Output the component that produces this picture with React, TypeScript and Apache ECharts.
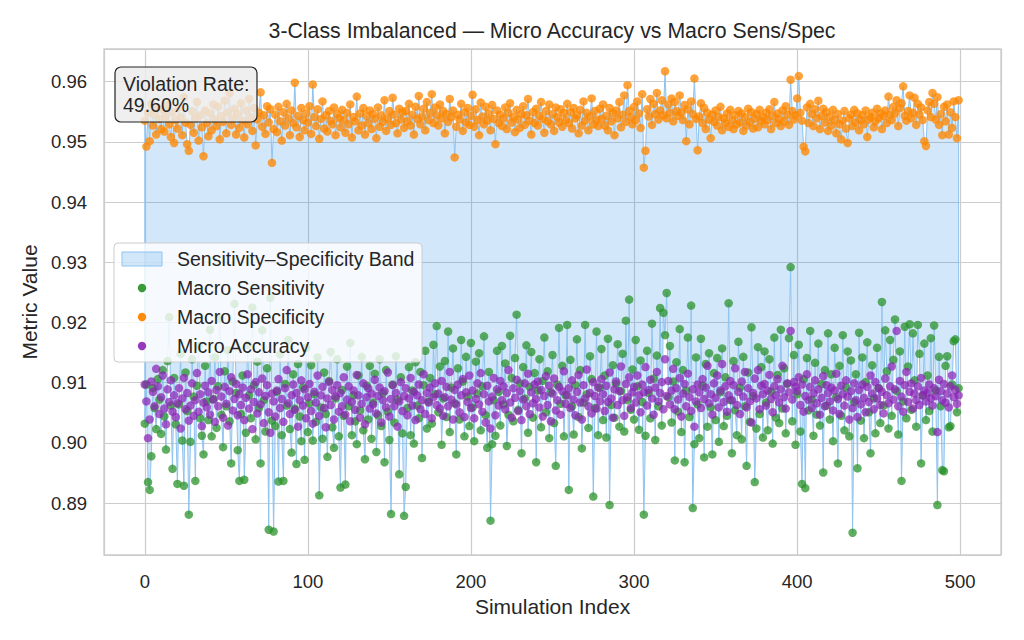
import React, { useEffect, useRef } from "react";
import * as echarts from "echarts";

const FONT = "'Liberation Sans', Arial, Helvetica, sans-serif";

const titleText = "3-Class Imbalanced — Micro Accuracy vs Macro Sens/Spec";
const xName = "Simulation Index";
const yName = "Metric Value";
const bandLabel = "Sensitivity–Specificity Band";
const sensLabel = "Macro Sensitivity";
const specLabel = "Macro Specificity";
const accLabel = "Micro Accuracy";
const violationText = "Violation Rate:\n49.60%";

const macroSensitivity = [
  0.9032, 0.9097, 0.8935, 0.8922, 0.8978, 0.9091, 0.9058, 0.9023, 0.9106, 0.9072, 0.9015, 0.9121, 0.9044, 0.8989, 0.9136, 0.9209, 0.9062, 0.8957, 0.9108, 0.9031,
  0.8932, 0.9064, 0.9148, 0.9004, 0.8929, 0.9117, 0.9053, 0.8881, 0.9002, 0.9139, 0.9077, 0.8937, 0.9095, 0.9161, 0.9041, 0.9012, 0.8981, 0.9128, 0.9069, 0.9038,
  0.9188, 0.9011, 0.9073, 0.9142, 0.9025, 0.9094, 0.9207, 0.9047, 0.8993, 0.9119, 0.9061, 0.9154, 0.9036, 0.8966, 0.9102, 0.9231, 0.9083, 0.8988, 0.8937, 0.9048,
  0.9112, 0.8939, 0.9017, 0.9163, 0.9079, 0.9041, 0.9225, 0.9096, 0.9006, 0.9135, 0.9058, 0.8966, 0.9187, 0.9071, 0.9019, 0.9124, 0.8856, 0.9241, 0.9037, 0.8853,
  0.9028, 0.9085, 0.8936, 0.9147, 0.9013, 0.8937, 0.9098, 0.9062, 0.9171, 0.9023, 0.8984, 0.9114, 0.9057, 0.8965, 0.9131, 0.9044, 0.9003, 0.9092, 0.8972, 0.9158,
  0.9018, 0.9066, 0.9129, 0.9004, 0.9081, 0.9035, 0.9142, 0.8913, 0.9059, 0.9007, 0.9117, 0.9048, 0.8977, 0.9103, 0.9151, 0.9026, 0.8992, 0.9074, 0.9139, 0.9011,
  0.8926, 0.9088, 0.9045, 0.8931, 0.9127, 0.9061, 0.9166, 0.9013, 0.9079, 0.9036, 0.8998, 0.9112, 0.9054, 0.9143, 0.9021, 0.8973, 0.9095, 0.9039, 0.9128, 0.9007,
  0.9067, 0.9115, 0.8985, 0.9046, 0.9139, 0.9028, 0.9083, 0.8968, 0.9121, 0.9052, 0.9005, 0.8882, 0.9097, 0.9034, 0.9144, 0.9072, 0.8948, 0.9109, 0.9016, 0.8879,
  0.8927, 0.9058, 0.9126, 0.9013, 0.9087, 0.8999, 0.9134, 0.9062, 0.9041, 0.9118, 0.8975, 0.9096, 0.9153, 0.9024, 0.9069, 0.9108, 0.9032, 0.9163, 0.9081, 0.9194,
  0.9051, 0.9127, 0.8997, 0.9074, 0.9136, 0.9043, 0.9185, 0.9018, 0.9092, 0.9157, 0.9066, 0.8981, 0.9124, 0.9039, 0.9171, 0.9102, 0.9011, 0.9143, 0.9077, 0.9028,
  0.9166, 0.9059, 0.9003, 0.9135, 0.9082, 0.9149, 0.9021, 0.9094, 0.9177, 0.9046, 0.8992, 0.9118, 0.8871, 0.8998, 0.9071, 0.9012, 0.9153, 0.9085, 0.9029, 0.9161,
  0.9064, 0.9132, 0.8995, 0.9047, 0.9178, 0.9108, 0.9036, 0.9141, 0.9213, 0.9055, 0.9099, 0.8983, 0.9126, 0.9074, 0.9162, 0.9017, 0.9093, 0.9151, 0.9042, 0.9116,
  0.8968, 0.9087, 0.9139, 0.9026, 0.9103, 0.9175, 0.9051, 0.9119, 0.9008, 0.9084, 0.9146, 0.9033, 0.8962, 0.9097, 0.9191, 0.9065, 0.9128, 0.9011, 0.9079, 0.9196,
  0.8922, 0.9138, 0.9061, 0.9014, 0.9096, 0.9172, 0.9043, 0.9121, 0.8991, 0.9067, 0.9196, 0.9081, 0.9025, 0.9144, 0.9106, 0.8911, 0.9058, 0.9185, 0.9013, 0.9092,
  0.9156, 0.9038, 0.9112, 0.9009, 0.9173, 0.8897, 0.9063, 0.9129, 0.9042, 0.9098, 0.9164, 0.9027, 0.9086, 0.9148, 0.9019, 0.9203, 0.9071, 0.9238, 0.9055, 0.9122,
  0.9039, 0.9171, 0.9094, 0.9022, 0.9137, 0.9068, 0.8881, 0.9012, 0.9153, 0.9083, 0.9041, 0.9198, 0.9107, 0.9005, 0.9145, 0.9061, 0.9224, 0.9029, 0.9216, 0.9179,
  0.9249, 0.9076, 0.9161, 0.9034, 0.9102, 0.8971, 0.9134, 0.9052, 0.9189, 0.9018, 0.9121, 0.8968, 0.9087, 0.9175, 0.9043, 0.9228, 0.8892, 0.8998, 0.9142, 0.9064,
  0.9008, 0.9173, 0.9095, 0.8976, 0.9131, 0.9027, 0.9149, 0.9059, 0.8981, 0.9116, 0.9038, 0.9141, 0.9002, 0.9084, 0.9157, 0.9028, 0.9109, 0.9045, 0.9232, 0.9071,
  0.8983, 0.9136, 0.9054, 0.9013, 0.9168, 0.9092, 0.9006, 0.9143, 0.9061, 0.8962, 0.9117, 0.9035, 0.9192, 0.9078, 0.8935, 0.9024, 0.9159, 0.9048, 0.9126, 0.9009,
  0.9152, 0.9067, 0.9021, 0.9139, 0.9085, 0.8999, 0.9175, 0.9042, 0.9113, 0.9033, 0.9188, 0.9057, 0.9124, 0.9016, 0.9098, 0.9174, 0.9292, 0.9036, 0.9146, 0.8997,
  0.9081, 0.9163, 0.9019, 0.8932, 0.9106, 0.8925, 0.9141, 0.9054, 0.9186, 0.9072, 0.9012, 0.9133, 0.9047, 0.9165, 0.9029, 0.9098, 0.8951, 0.9121, 0.9062, 0.9182,
  0.9039, 0.9114, 0.9003, 0.9158, 0.9076, 0.8966, 0.9128, 0.9045, 0.9179, 0.9021, 0.9092, 0.9152, 0.9011, 0.9137, 0.8851, 0.9068, 0.9114, 0.8958, 0.9183, 0.9037,
  0.9142, 0.9008, 0.9101, 0.9167, 0.9051, 0.8983, 0.9129, 0.9074, 0.9016, 0.9158, 0.9091, 0.9033, 0.9234, 0.9062, 0.9187, 0.9119, 0.9024, 0.9171, 0.9045, 0.9138,
  0.9205, 0.9086, 0.9014, 0.9152, 0.8937, 0.9069, 0.9193, 0.9041, 0.9127, 0.9197, 0.9055, 0.9182, 0.9104, 0.9027, 0.9196, 0.9148, 0.8966, 0.9079, 0.9165, 0.9038,
  0.9112, 0.9053, 0.9174, 0.9019, 0.9195, 0.9087, 0.8897, 0.9143, 0.9061, 0.8955, 0.8953, 0.9128, 0.9144, 0.9026, 0.9028, 0.9097, 0.9169, 0.9172, 0.9051, 0.9091,
];

const microAccuracy = [
  0.9097, 0.9069, 0.9008, 0.9039, 0.9102, 0.9085, 0.9061, 0.9123, 0.9094, 0.9048, 0.9076, 0.9112, 0.9057, 0.9031, 0.9089, 0.9068, 0.9104, 0.9052, 0.9079, 0.9043,
  0.9066, 0.9091, 0.9024, 0.9074, 0.9108, 0.9056, 0.9083, 0.9037, 0.9062, 0.9099, 0.9045, 0.9071, 0.9116, 0.9052, 0.9081, 0.9028, 0.9067, 0.9095, 0.9059, 0.9084,
  0.9047, 0.9103, 0.9072, 0.9035, 0.9088, 0.9061, 0.9118, 0.9077, 0.9042, 0.9093, 0.9065, 0.9029, 0.9086, 0.9109, 0.9054, 0.9073, 0.9098, 0.9046, 0.9081, 0.9063,
  0.9092, 0.9038, 0.9075, 0.9114, 0.9057, 0.9089, 0.9023, 0.9068, 0.9101, 0.9049, 0.9084, 0.9064, 0.9107, 0.9033, 0.9078, 0.9096, 0.9051, 0.9017, 0.9082, 0.9069,
  0.9044, 0.9087, 0.9106, 0.9058, 0.9073, 0.9035, 0.9091, 0.9121, 0.9066, 0.9048, 0.9079, 0.9097, 0.9055, 0.9083, 0.9027, 0.9071, 0.9104, 0.9062, 0.9089, 0.9041,
  0.9076, 0.9098, 0.9053, 0.9032, 0.9085, 0.9067, 0.9112, 0.9045, 0.9079, 0.9093, 0.9058, 0.9026, 0.9074, 0.9101, 0.9063, 0.9088, 0.9039, 0.9077, 0.9096, 0.9052,
  0.9083, 0.9061, 0.9109, 0.9047, 0.9072, 0.9094, 0.9036, 0.9068, 0.9087, 0.9055, 0.9113, 0.9079, 0.9042, 0.9065, 0.9099, 0.9031, 0.9076, 0.9091, 0.9057, 0.9082,
  0.9064, 0.9105, 0.9049, 0.9078, 0.9092, 0.9034, 0.9071, 0.9086, 0.9059, 0.9117, 0.9044, 0.9073, 0.9096, 0.9061, 0.9083, 0.9027, 0.9069, 0.9101, 0.9053, 0.9078,
  0.9091, 0.9046, 0.9074, 0.9108, 0.9062, 0.9085, 0.9038, 0.9079, 0.9097, 0.9056, 0.9071, 0.9114, 0.9048, 0.9083, 0.9067, 0.9092, 0.9041, 0.9076, 0.9099, 0.9063,
  0.9082, 0.9057, 0.9103, 0.9045, 0.9076, 0.9093, 0.9061, 0.9118, 0.9072, 0.9039, 0.9088, 0.9064, 0.9097, 0.9051, 0.9079, 0.9106, 0.9043, 0.9084, 0.9068, 0.9112,
  0.9058, 0.9087, 0.9041, 0.9073, 0.9099, 0.9064, 0.9116, 0.9052, 0.9081, 0.9034, 0.9095, 0.9069, 0.9024, 0.9077, 0.9108, 0.9046, 0.9089, 0.9062, 0.9103, 0.9071,
  0.9094, 0.9056, 0.9083, 0.9121, 0.9067, 0.9042, 0.9091, 0.9075, 0.9105, 0.9053, 0.9086, 0.9038, 0.9072, 0.9099, 0.9061, 0.9115, 0.9048, 0.9084, 0.9066, 0.9097,
  0.9073, 0.9102, 0.9059, 0.9088, 0.9044, 0.9078, 0.9111, 0.9063, 0.9095, 0.9036, 0.9082, 0.9107, 0.9054, 0.9071, 0.9093, 0.9047, 0.9086, 0.9119, 0.9065, 0.9079,
  0.9091, 0.9058, 0.9104, 0.9072, 0.9046, 0.9085, 0.9113, 0.9067, 0.9039, 0.9096, 0.9074, 0.9122, 0.9061, 0.9083, 0.9049, 0.9101, 0.9078, 0.9057, 0.9092, 0.9069,
  0.9106, 0.9081, 0.9053, 0.9095, 0.9068, 0.9117, 0.9074, 0.9042, 0.9089, 0.9102, 0.9063, 0.9086, 0.9127, 0.9071, 0.9045, 0.9098, 0.9076, 0.9109, 0.9058, 0.9084,
  0.9093, 0.9067, 0.9112, 0.9079, 0.9051, 0.9097, 0.9084, 0.9126, 0.9062, 0.9088, 0.9105, 0.9074, 0.9047, 0.9092, 0.9118, 0.9069, 0.9083, 0.9101, 0.9056, 0.9139,
  0.9078, 0.9103, 0.9064, 0.9087, 0.9123, 0.9056, 0.9091, 0.9072, 0.9108, 0.9044, 0.9082, 0.9098, 0.9061, 0.9115, 0.9076, 0.9053, 0.9089, 0.9027, 0.9069, 0.9097,
  0.9084, 0.9058, 0.9106, 0.9073, 0.9092, 0.9128, 0.9066, 0.9081, 0.9047, 0.9099, 0.9075, 0.9112, 0.9059, 0.9087, 0.9131, 0.9068, 0.9094, 0.9052, 0.9079, 0.9103,
  0.9071, 0.9096, 0.9124, 0.9063, 0.9085, 0.9048, 0.9102, 0.9077, 0.9118, 0.9059, 0.9091, 0.9069, 0.9034, 0.9083, 0.9107, 0.9074, 0.9121, 0.9056, 0.9095, 0.9081,
  0.9098, 0.9062, 0.9087, 0.9113, 0.9073, 0.9051, 0.9094, 0.9079, 0.9106, 0.9067, 0.9089, 0.9128, 0.9076, 0.9057, 0.9099, 0.9084, 0.9186, 0.9072, 0.9101, 0.9093,
  0.9086, 0.9109, 0.9063, 0.9097, 0.9052, 0.9078, 0.9114, 0.9071, 0.9093, 0.9058, 0.9082, 0.9104, 0.9066, 0.9089, 0.9047, 0.9075, 0.9111, 0.9061, 0.9096, 0.9083,
  0.9069, 0.9092, 0.9054, 0.9087, 0.9115, 0.9073, 0.9048, 0.9095, 0.9081, 0.9062, 0.9104, 0.9077, 0.9039, 0.9086, 0.9058, 0.9099, 0.9071, 0.9043, 0.9088, 0.9064,
  0.9097, 0.9075, 0.9051, 0.9093, 0.9068, 0.9112, 0.9082, 0.9056, 0.9101, 0.9074, 0.9091, 0.9063, 0.9085, 0.9049, 0.9107, 0.9079, 0.9066, 0.9094, 0.9127, 0.9072,
  0.9089, 0.9186, 0.9061, 0.9103, 0.9077, 0.9052, 0.9096, 0.9118, 0.9068, 0.9085, 0.9099, 0.9057, 0.9082, 0.9071, 0.9094, 0.9063, 0.9108, 0.9079, 0.9087, 0.9069,
  0.9083, 0.9097, 0.9074, 0.9062, 0.9091, 0.9078, 0.9018, 0.9105, 0.9086, 0.9071, 0.9098, 0.9067, 0.9082, 0.9059, 0.9094, 0.9112, 0.9076, 0.9088, 0.9065, 0.9079,
];

const macroSpecificity = [
  0.9535, 0.9492, 0.9548, 0.9501, 0.9563, 0.9527, 0.9545, 0.9512, 0.9556, 0.9538, 0.9521, 0.9553, 0.9517, 0.9542, 0.9561, 0.9529, 0.9508, 0.9549, 0.9498, 0.9536,
  0.9522, 0.9557, 0.9541, 0.9511, 0.9574, 0.9532, 0.9496, 0.9485, 0.9528, 0.9551, 0.9515, 0.9539, 0.9566, 0.9502, 0.9544, 0.9524, 0.9476, 0.9552, 0.9531, 0.9509,
  0.9547, 0.9519, 0.9562, 0.9537, 0.9526, 0.9558, 0.9504, 0.9543, 0.9533, 0.9568, 0.9514, 0.9549, 0.9581, 0.9528, 0.9539, 0.9555, 0.9512, 0.9546, 0.9523, 0.9564,
  0.9535, 0.9507, 0.9552, 0.9529, 0.9571, 0.9541, 0.9518, 0.9556, 0.9494, 0.9537, 0.9548, 0.9582, 0.9525, 0.9544, 0.9513, 0.9559, 0.9532, 0.9554, 0.9465, 0.9521,
  0.9545, 0.9516, 0.9558, 0.9534, 0.9502, 0.9549, 0.9527, 0.9563, 0.9539, 0.9511, 0.9552, 0.9531, 0.9598, 0.9524, 0.9543, 0.9508, 0.9556, 0.9536, 0.9519, 0.9547,
  0.9532, 0.9559, 0.9513, 0.9595, 0.9541, 0.9526, 0.9554, 0.9505, 0.9538, 0.9567, 0.9522, 0.9544, 0.9517, 0.9551, 0.9535, 0.9529, 0.9557, 0.9511, 0.9546, 0.9539,
  0.9524, 0.9553, 0.9536, 0.9515, 0.9548, 0.9529, 0.9562, 0.9507, 0.9541, 0.9534, 0.9575, 0.9519, 0.9547, 0.9527, 0.9556, 0.9512, 0.9543, 0.9531, 0.9552, 0.9521,
  0.9546, 0.9538, 0.9506, 0.9557, 0.9525, 0.9544, 0.9533, 0.9569, 0.9518, 0.9539, 0.9551, 0.9528, 0.9573, 0.9545, 0.9531, 0.9514, 0.9555, 0.9537, 0.9549, 0.9523,
  0.9551, 0.9534, 0.9563, 0.9527, 0.9545, 0.9512, 0.9558, 0.9538, 0.9576, 0.9529, 0.9542, 0.9555, 0.9519, 0.9566, 0.9536, 0.9548, 0.9579, 0.9531, 0.9557, 0.9544,
  0.9527, 0.9562, 0.9539, 0.9551, 0.9514, 0.9546, 0.9533, 0.9571, 0.9541, 0.9552, 0.9474, 0.9525, 0.9545, 0.9537, 0.9563, 0.9518, 0.9549, 0.9532, 0.9556, 0.9528,
  0.9543, 0.9578, 0.9525, 0.9554, 0.9536, 0.9511, 0.9565, 0.9542, 0.9529, 0.9558, 0.9535, 0.9547, 0.9519, 0.9561, 0.9538, 0.9496, 0.9552, 0.9531, 0.9545, 0.9526,
  0.9539, 0.9557, 0.9521, 0.9548, 0.9564, 0.9532, 0.9541, 0.9516, 0.9553, 0.9537, 0.9523, 0.9546, 0.9559, 0.9528, 0.9544, 0.9571, 0.9535, 0.9512, 0.9549, 0.9531,
  0.9555, 0.9527, 0.9543, 0.9566, 0.9538, 0.9515, 0.9551, 0.9534, 0.9562, 0.9529, 0.9546, 0.9518, 0.9557, 0.9541, 0.9532, 0.9554, 0.9525, 0.9548, 0.9536, 0.9563,
  0.9531, 0.9549, 0.9522, 0.9556, 0.9539, 0.9544, 0.9514, 0.9553, 0.9527, 0.9567, 0.9535, 0.9548, 0.9519, 0.9542, 0.9572, 0.9529, 0.9551, 0.9537, 0.9526, 0.9555,
  0.9538, 0.9562, 0.9527, 0.9543, 0.9519, 0.9556, 0.9534, 0.9548, 0.9511, 0.9552, 0.9539, 0.9566, 0.9524, 0.9545, 0.9577, 0.9533, 0.9594, 0.9551, 0.9541, 0.9529,
  0.9558, 0.9536, 0.9567, 0.9547, 0.9523, 0.9579, 0.9457, 0.9485, 0.9554, 0.9542, 0.9571, 0.9528, 0.9563, 0.9546, 0.9581, 0.9537, 0.9552, 0.9569, 0.9544, 0.9617,
  0.9539, 0.9562, 0.9548, 0.9572, 0.9534, 0.9566, 0.9551, 0.9543, 0.9577, 0.9549, 0.9536, 0.9561, 0.9501, 0.9554, 0.9529, 0.9567, 0.9546, 0.9605, 0.9538, 0.9486,
  0.9542, 0.9564, 0.9531, 0.9556, 0.9521, 0.9548, 0.9537, 0.9506, 0.9545, 0.9533, 0.9552, 0.9527, 0.9541, 0.9558, 0.9519, 0.9539, 0.9531, 0.9547, 0.9525, 0.9553,
  0.9536, 0.9521, 0.9544, 0.9529, 0.9551, 0.9532, 0.9547, 0.9518, 0.9541, 0.9527, 0.9555, 0.9533, 0.9549, 0.9522, 0.9538, 0.9546, 0.9524, 0.9553, 0.9535, 0.9541,
  0.9529, 0.9548, 0.9536, 0.9554, 0.9521, 0.9543, 0.9566, 0.9531, 0.9547, 0.9538, 0.9526, 0.9552, 0.9534, 0.9559, 0.9545, 0.9528, 0.9603, 0.9551, 0.9537, 0.9544,
  0.9572, 0.9609, 0.9548, 0.9535, 0.9492, 0.9484, 0.9557, 0.9531, 0.9563, 0.9546, 0.9526, 0.9554, 0.9539, 0.9568, 0.9521, 0.9543, 0.9555, 0.9532, 0.9549, 0.9518,
  0.9541, 0.9527, 0.9553, 0.9536, 0.9514, 0.9546, 0.9529, 0.9504, 0.9535, 0.9551, 0.9522, 0.9498, 0.9539, 0.9545, 0.9526, 0.9553, 0.9532, 0.9547, 0.9519, 0.9536,
  0.9544, 0.9529, 0.9552, 0.9508, 0.9537, 0.9541, 0.9548, 0.9524, 0.9534, 0.9555, 0.9539, 0.9547, 0.9521, 0.9543, 0.9552, 0.9531, 0.9575, 0.9545, 0.9536, 0.9558,
  0.9547, 0.9569, 0.9526, 0.9556, 0.9564, 0.9592, 0.9543, 0.9535, 0.9551, 0.9577, 0.9539, 0.9548, 0.9573, 0.9528, 0.9563, 0.9545, 0.9557, 0.9536, 0.9501, 0.9493,
  0.9552, 0.9566, 0.9541, 0.9581, 0.9563, 0.9537, 0.9574, 0.9528, 0.9546, 0.9511, 0.9558, 0.9534, 0.9562, 0.9512, 0.9549, 0.9523, 0.9567, 0.9541, 0.9506, 0.9569,
];

const simulationIndex = macroSensitivity.map((_, i) => i);

const X_MIN = -25;
const X_MAX = 525;
const Y_MIN = 0.8814;
const Y_MAX = 0.9654;

const BAND_FILL = "rgba(30,136,229,0.2)";
const BAND_EDGE = "#8fc3f0";
const GREEN = "rgba(40,145,40,0.92)";
const ORANGE = "rgba(255,135,0,0.97)";
const PURPLE = "rgba(140,35,180,0.9)";
const TEXT = "#262626";
const GRID = "#cccccc";

export default function App() {
  const ref = useRef<HTMLDivElement>(null);

  useEffect(() => {
    if (!ref.current) return;
    const chart = echarts.init(ref.current, undefined, { renderer: "svg" });

    const toPairs = (vals: number[]) => simulationIndex.map((x, i) => [x, vals[i]]);

    const legendRows = [
      { label: sensLabel, color: GREEN },
      { label: specLabel, color: ORANGE },
      { label: accLabel, color: PURPLE },
    ];

    const legendX = 114;
    const legendY = 243;
    const rowH = 29;

    const graphic: any[] = [
      {
        type: "rect",
        z: 100,
        shape: { x: legendX, y: legendY, width: 308, height: 119, r: 4 },
        style: { fill: "rgba(255,255,255,0.8)", stroke: GRID, lineWidth: 1 },
      },
      {
        type: "rect",
        z: 101,
        shape: { x: 122, y: 252, width: 40, height: 14 },
        style: { fill: BAND_FILL, stroke: BAND_EDGE, lineWidth: 1 },
      },
      {
        type: "text",
        z: 101,
        x: 177,
        y: 259,
        style: { text: bandLabel, fill: TEXT, font: `19.5px ${FONT}`, textVerticalAlign: "middle" },
      },
      ...legendRows.flatMap((r, k) => [
        {
          type: "circle",
          z: 101,
          shape: { cx: 142, cy: 288 + k * rowH, r: 4.2 },
          style: { fill: r.color },
        },
        {
          type: "text",
          z: 101,
          x: 177,
          y: 288 + k * rowH,
          style: { text: r.label, fill: TEXT, font: `19.5px ${FONT}`, textVerticalAlign: "middle" },
        },
      ]),
      {
        type: "rect",
        z: 100,
        shape: { x: 115, y: 67, width: 142, height: 55, r: 6 },
        style: { fill: "rgba(235,235,235,0.82)", stroke: "#222222", lineWidth: 1.2 },
      },
      {
        type: "text",
        z: 101,
        x: 123,
        y: 73,
        style: { text: violationText, fill: TEXT, font: `19.5px ${FONT}`, lineHeight: 21 },
      },
    ];

    const option: any = {
      animation: false,
      backgroundColor: "#ffffff",
      textStyle: { fontFamily: FONT },
      title: {
        text: titleText,
        left: 552,
        textAlign: "center",
        top: 20,
        padding: 0,
        textStyle: { fontFamily: FONT, fontSize: 21.3, fontWeight: "normal", color: TEXT },
      },
      grid: {
        left: 104,
        right: 23,
        top: 49,
        bottom: 85,
        show: true,
        borderColor: GRID,
        borderWidth: 1.3,
        backgroundColor: "transparent",
      },
      xAxis: {
        type: "value",
        min: X_MIN,
        max: X_MAX,
        splitNumber: 5,
        name: xName,
        nameLocation: "middle",
        nameGap: 41,
        nameTextStyle: { fontFamily: FONT, fontSize: 21, color: TEXT },
        axisLine: { show: false },
        axisTick: { show: false },
        axisLabel: {
          fontFamily: FONT,
          fontSize: 18.5,
          color: TEXT,
          margin: 17,
          showMinLabel: false,
          showMaxLabel: false,
        },
        splitLine: { show: true, lineStyle: { color: GRID, width: 1.2 } },
      },
      yAxis: {
        type: "value",
        min: Y_MIN,
        max: Y_MAX,
        splitNumber: 8,
        name: yName,
        nameLocation: "middle",
        nameGap: 61,
        nameTextStyle: { fontFamily: FONT, fontSize: 21, color: TEXT },
        axisLine: { show: false },
        axisTick: { show: false },
        axisLabel: {
          fontFamily: FONT,
          fontSize: 18.5,
          color: TEXT,
          margin: 17,
          showMinLabel: false,
          showMaxLabel: false,
          formatter: (v: number) => v.toFixed(2),
        },
        splitLine: { show: true, lineStyle: { color: GRID, width: 1.2 } },
      },
      series: [
        {
          type: "custom",
          name: bandLabel,
          z: 1,
          silent: true,
          data: [[simulationIndex[0], macroSensitivity[0]]],
          encode: { x: 0, y: 1 },
          renderItem: (_params: any, api: any) => {
            const pts: number[][] = [];
            for (let i = 0; i < simulationIndex.length; i++) {
              pts.push(api.coord([simulationIndex[i], macroSpecificity[i]]));
            }
            for (let i = simulationIndex.length - 1; i >= 0; i--) {
              pts.push(api.coord([simulationIndex[i], macroSensitivity[i]]));
            }
            return {
              type: "polygon",
              shape: { points: pts },
              style: { fill: BAND_FILL, stroke: BAND_EDGE, lineWidth: 1 },
            };
          },
        },
        {
          type: "scatter",
          name: sensLabel,
          z: 3,
          symbolSize: 8.5,
          itemStyle: { color: GREEN },
          data: toPairs(macroSensitivity),
        },
        {
          type: "scatter",
          name: specLabel,
          z: 4,
          symbolSize: 8.5,
          itemStyle: { color: ORANGE },
          data: toPairs(macroSpecificity),
        },
        {
          type: "scatter",
          name: accLabel,
          z: 5,
          symbolSize: 8.5,
          itemStyle: { color: PURPLE },
          data: toPairs(microAccuracy),
        },
      ],
      graphic,
    };

    chart.setOption(option);
    return () => chart.dispose();
  }, []);

  return (
    <div
      ref={ref}
      style={{ position: "absolute", left: 0, top: 0, width: 1024, height: 640, background: "#fff" }}
    />
  );
}
